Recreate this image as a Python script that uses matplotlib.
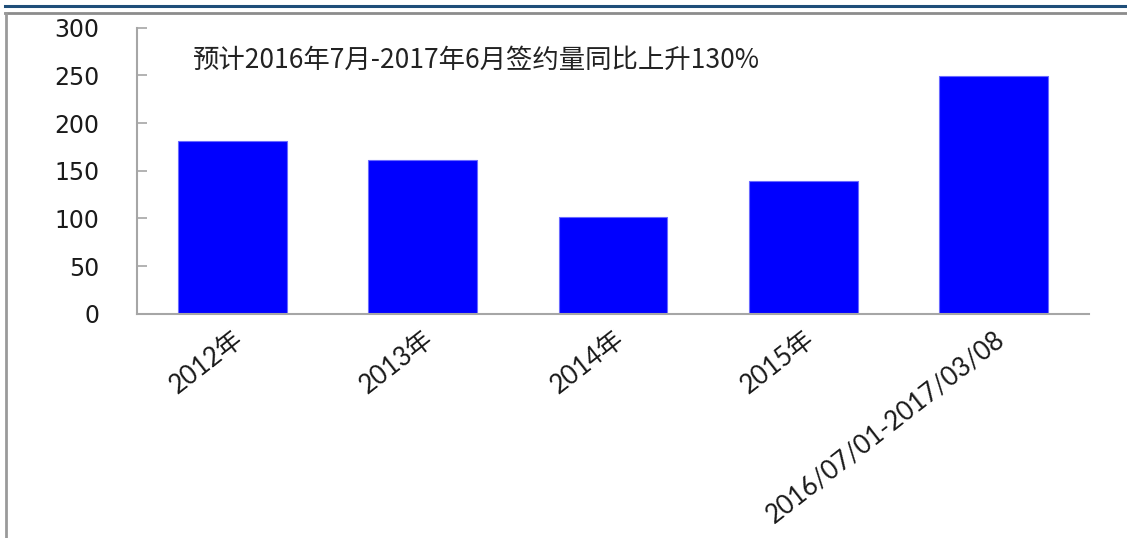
import matplotlib
matplotlib.use("Agg")
import matplotlib.pyplot as plt
from matplotlib.lines import Line2D

categories = ["2012年", "2013年", "2014年", "2015年", "2016/07/01-2017/03/08"]
values = [181, 161, 101, 139, 249]
yticks = [0, 50, 100, 150, 200, 250, 300]
annotation = "预计2016年7月-2017年6月签约量同比上升130%"

W, H = 1127, 538
fig = plt.figure(figsize=(W / 100, H / 100), dpi=100)

ax = fig.add_axes([137 / W, 1 - 313.7 / H, (1089 - 137) / W, (313.7 - 27.7) / H])
x = list(range(len(categories)))
ax.bar(x, values, width=0.572, color="#0000ff", edgecolor="#6a6aff", linewidth=0.8)
ax.set_xlim(-0.5, len(categories) - 0.5)
ax.set_ylim(0, 300)
ax.set_yticks(yticks)
ax.set_yticklabels([str(v) for v in yticks], fontsize=17, family="DejaVu Sans", color="#1a1a1a")
ax.tick_params(axis="y", direction="in", length=7, width=1.2, color="#a6a6a6", pad=27)
ax.set_xticks(x)
ax.set_xticklabels(categories, rotation=38, ha="right", va="top", rotation_mode="anchor",
                   fontsize=18.5, family=["Lato", "Noto Sans CJK SC"], color="#1a1a1a")
ax.tick_params(axis="x", length=0, pad=9)
for s in ["top", "right"]:
    ax.spines[s].set_visible(False)
for s in ["left", "bottom"]:
    ax.spines[s].set_color("#a6a6a6")
    ax.spines[s].set_linewidth(1.5)

fig.text(193 / W, 1 - 60 / H, annotation, fontsize=19, family=["Noto Sans CJK SC", "DejaVu Sans"],
         color="#222222", ha="left", va="center")

# frame decorations
fig.add_artist(Line2D([5 / W, 1], [1 - 6 / H, 1 - 6 / H], color="#1f4e79", linewidth=2.2, transform=fig.transFigure))
fig.add_artist(Line2D([5 / W, 1], [1 - 13 / H, 1 - 13 / H], color="#8c8c8c", linewidth=2.0, transform=fig.transFigure))
fig.add_artist(Line2D([6 / W, 6 / W], [1 - 13 / H, 0], color="#9a9a9a", linewidth=2.0, transform=fig.transFigure))

fig.savefig("out.png", dpi=100)
